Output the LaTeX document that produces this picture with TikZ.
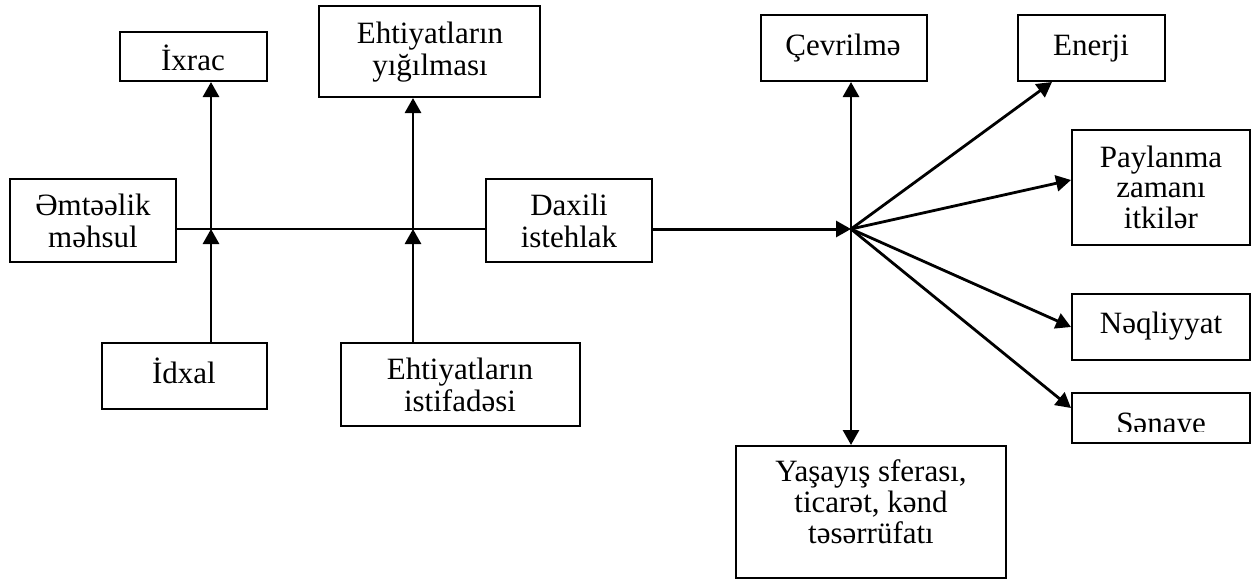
\documentclass[tikz,border=0pt]{standalone}
\usepackage{fontspec}
\setmainfont{Liberation Serif}
\usetikzlibrary{arrows.meta,fit}

\begin{document}
\begin{tikzpicture}[
  x=1pt, y=-1pt,
  box/.style={draw, line width=2pt, inner sep=0pt},
  lbl/.style={inner sep=0pt, align=center, anchor=base,
              font=\fontsize{31}{32}\selectfont},
  tip/.tip={Triangle[length=15pt,width=16pt]},
  flow/.style={line width=2.8pt, -tip},
  both/.style={line width=2.8pt, tip-tip},
  trunk/.style={line width=2.2pt}
]
\useasboundingbox (0,0) rectangle (1258,579);

% boxes
\node[box, fit={(10,179)(176,262)}]   (emt) {};
\node[box, fit={(120,32)(267,81)}]    (ixr) {};
\node[box, fit={(319,6)(540,97)}]     (yig) {};
\node[box, fit={(486,179)(652,262)}]  (dax) {};
\node[box, fit={(102,343)(267,409)}]  (idx) {};
\node[box, fit={(341,343)(580,426)}]  (ist) {};
\node[box, fit={(761,15)(927,81)}]    (cev) {};
\node[box, fit={(1018,15)(1165,81)}]  (ene) {};
\node[box, fit={(1072,130)(1250,245)}] (pay) {};
\node[box, fit={(1072,294)(1250,360)}] (neq) {};
\node[box, fit={(1072,393)(1250,443)}] (sen) {};
\node[box, fit={(736,446)(1006,578)}] (yas) {};

% texts (base = baseline of the last line)
\node[lbl] (emt-t) at (93,247)   {Əmtəəlik\\məhsul};
\node[lbl] (ixr-t) at (193,70)   {İxrac};
\node[lbl] (yig-t) at (430,75)   {Ehtiyatların\\yığılması};
\node[lbl] (dax-t) at (569,247)  {Daxili\\istehlak};
\node[lbl] (idx-t) at (184,383)  {İdxal};
\node[lbl] (ist-t) at (460,411)  {Ehtiyatların\\istifadəsi};
\node[lbl] (cev-t) at (843,55)   {Çevrilmə};
\node[lbl] (ene-t) at (1091,55)  {Enerji};
\node[lbl, font=\fontsize{31}{30.5}\selectfont] (pay-t) at (1161,228) {Paylanma\\zamanı\\itkilər};
\node[lbl] (neq-t) at (1161,333) {Nəqliyyat};
\begin{scope}
  \clip (1072,393) rectangle (1250,431);
  \node[lbl] (sen-t) at (1161,433) {Sənaye};
\end{scope}
\node[lbl, font=\fontsize{31}{30.7}\selectfont] (yas-t) at (871,543)  {Yaşayış sferası,\\ticarət, kənd\\təsərrüfatı};

% junction points
\coordinate (hub) at (851,229);
\coordinate (j1) at (211,229);
\coordinate (j2) at (413,229);

% main line
\draw[trunk] (hub -| emt.east) -- (hub -| dax.west);
\draw[flow, line width=3pt] (hub -| dax.east) -- (hub);

% branches of the main line
\draw[flow] (j1) -- (j1 |- ixr.south);
\draw[flow] (j1 |- idx.north) -- (j1);
\draw[flow] (j2) -- (j2 |- yig.south);
\draw[flow] (j2 |- ist.north) -- (j2);

% distribution from the hub
\draw[both] (hub |- cev.south) -- (hub |- yas.north);
\draw[flow] (hub) -- ([xshift=35pt]ene.south west);
\draw[flow] (hub) -- ([yshift=7.5pt]pay.west);
\draw[flow] (hub) -- (neq.west);
\draw[flow] (hub) -- ([yshift=10pt]sen.west);
\end{tikzpicture}
\end{document}
